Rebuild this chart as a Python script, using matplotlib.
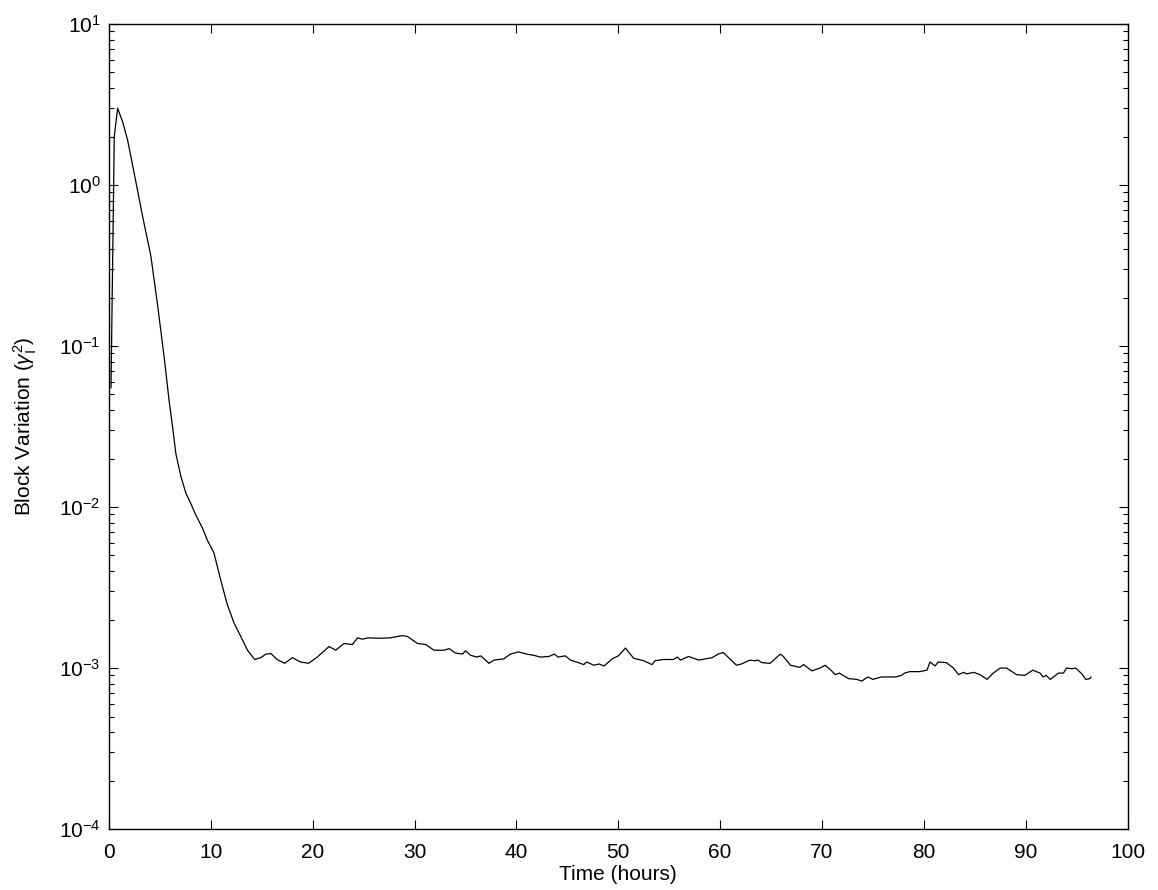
import matplotlib.pyplot as plt
from matplotlib.ticker import LogLocator, FixedLocator

plt.rcParams['font.family'] = ['Liberation Sans', 'DejaVu Sans']
plt.rcParams['mathtext.fontset'] = 'custom'
plt.rcParams['mathtext.rm'] = 'Liberation Sans'
plt.rcParams['mathtext.it'] = 'Liberation Sans:italic'

# values
hours = [0.2, 0.35, 0.52, 0.85, 1.34, 1.83, 2.48, 3.3, 4.12, 4.77, 5.42, 5.9,
         6.24, 6.57, 7.06, 7.55, 8.04, 8.53, 9.18, 9.67, 10.3, 10.98, 11.6,
         12.28, 12.94, 13.6, 14.3, 14.9, 15.4, 15.9, 16.5, 17.25, 18.0, 18.8,
         19.6, 20.45, 21.6, 22.25, 23.07, 23.9, 24.4, 24.9, 25.4, 26.7, 27.6,
         28.8, 29.3, 30.3, 31.1, 31.9, 32.9, 33.4, 34.0, 34.7, 35.0, 35.5,
         36.1, 36.5, 37.3, 37.8, 38.75, 39.4, 40.2, 41.0, 41.7, 42.35, 43.2,
         43.7, 44.1, 44.8, 45.3, 46.1, 46.6, 46.9, 47.6, 48.1, 48.6, 49.4,
         50.0, 50.7, 51.5, 52.5, 53.3, 53.6, 54.4, 55.4, 55.8, 56.1, 56.9,
         57.9, 59.2, 59.8, 60.3, 61.6, 62.1, 62.9, 63.4, 63.7, 64.1, 64.9,
         65.9, 66.2, 66.9, 67.8, 68.2, 69.0, 69.8, 70.3, 70.8, 71.3, 71.7,
         72.6, 73.4, 73.9, 74.5, 75.0, 75.8, 76.5, 77.2, 77.8, 78.1, 78.6,
         79.6, 80.3, 80.6, 81.1, 81.4, 82.2, 82.9, 83.4, 83.9, 84.2, 84.9,
         85.5, 86.2, 86.8, 87.5, 88.1, 89.1, 89.9, 90.7, 91.4, 91.7, 92.0,
         92.4, 93.2, 93.7, 94.0, 94.5, 94.9, 95.5, 95.9, 96.3, 96.4]
variation = [0.055, 0.3, 2.0, 3.0, 2.47, 1.9, 1.18, 0.64, 0.36, 0.18, 0.085,
             0.046, 0.0316, 0.0214, 0.0155, 0.0122, 0.0105, 0.0089, 0.0074,
             0.0062, 0.0052, 0.0035, 0.0025, 0.0019, 0.00157, 0.00129, 0.00113,
             0.00116, 0.00122, 0.00123, 0.00113, 0.00107, 0.00116, 0.00109,
             0.00107, 0.00117, 0.00136, 0.00129, 0.00142, 0.0014, 0.00154,
             0.00151, 0.00154, 0.00153, 0.00154, 0.00159, 0.00157, 0.00142,
             0.0014, 0.00129, 0.00129, 0.00132, 0.00124, 0.00122, 0.00128,
             0.0012, 0.00117, 0.00119, 0.00107, 0.00112, 0.00114, 0.00122,
             0.00126, 0.00122, 0.0012, 0.00117, 0.00118, 0.00122, 0.00117,
             0.00119, 0.00112, 0.00108, 0.00105, 0.00109, 0.00104, 0.00106,
             0.00103, 0.00114, 0.00119, 0.00133, 0.00115, 0.00111, 0.00105,
             0.00111, 0.00113, 0.00113, 0.00117, 0.00112, 0.00118, 0.00112,
             0.00116, 0.00122, 0.00125, 0.00104, 0.00106, 0.00112, 0.00111,
             0.00112, 0.00108, 0.00107, 0.00122, 0.00118, 0.00104, 0.00101,
             0.00105, 0.00096, 0.001, 0.00104, 0.00098, 0.00091, 0.00093,
             0.00086, 0.00085, 0.00083, 0.00088, 0.00085, 0.00088, 0.00088,
             0.00088, 0.0009, 0.00093, 0.00095, 0.00095, 0.00097, 0.00109,
             0.00103, 0.00109, 0.00108, 0.001, 0.00091, 0.00094, 0.00092,
             0.00094, 0.00091, 0.00085, 0.00093, 0.001, 0.001, 0.00091, 0.0009,
             0.00097, 0.00093, 0.00088, 0.0009, 0.00085, 0.00093, 0.00093,
             0.001, 0.00099, 0.001, 0.00092, 0.00085, 0.00086, 0.00088]
x_ticks = list(range(0, 101, 10))

fig = plt.figure(figsize=(11.58, 8.9), dpi=100)
ax = fig.add_axes([0.0941, 0.0685, 0.8797, 0.9045])
ax.plot(hours, variation, color='black', linewidth=0.9)
ax.set_yscale('log')
ax.set_xlim(0, 100)
ax.set_ylim(1e-4, 1e1)
ax.xaxis.set_major_locator(FixedLocator(x_ticks))
ax.yaxis.set_major_locator(LogLocator(base=10, numticks=10))
ax.yaxis.set_minor_locator(LogLocator(base=10, subs=range(2, 10), numticks=20))

ax.tick_params(which='both', direction='in', top=True, right=True, labelsize=15)
ax.tick_params(which='major', length=6.5, width=0.8)
ax.tick_params(which='minor', length=3.5, width=0.8)
ax.tick_params(axis='y', pad=6)
ax.tick_params(axis='x', pad=10)
for s in ax.spines.values():
    s.set_linewidth(1.0)

ax.set_xlabel('Time (hours)', fontsize=15, labelpad=2)
ax.set_ylabel(r'Block Variation ($\gamma_\mathrm{I}^2$)', fontsize=15, labelpad=14)

fig.savefig('out.png', dpi=100)
